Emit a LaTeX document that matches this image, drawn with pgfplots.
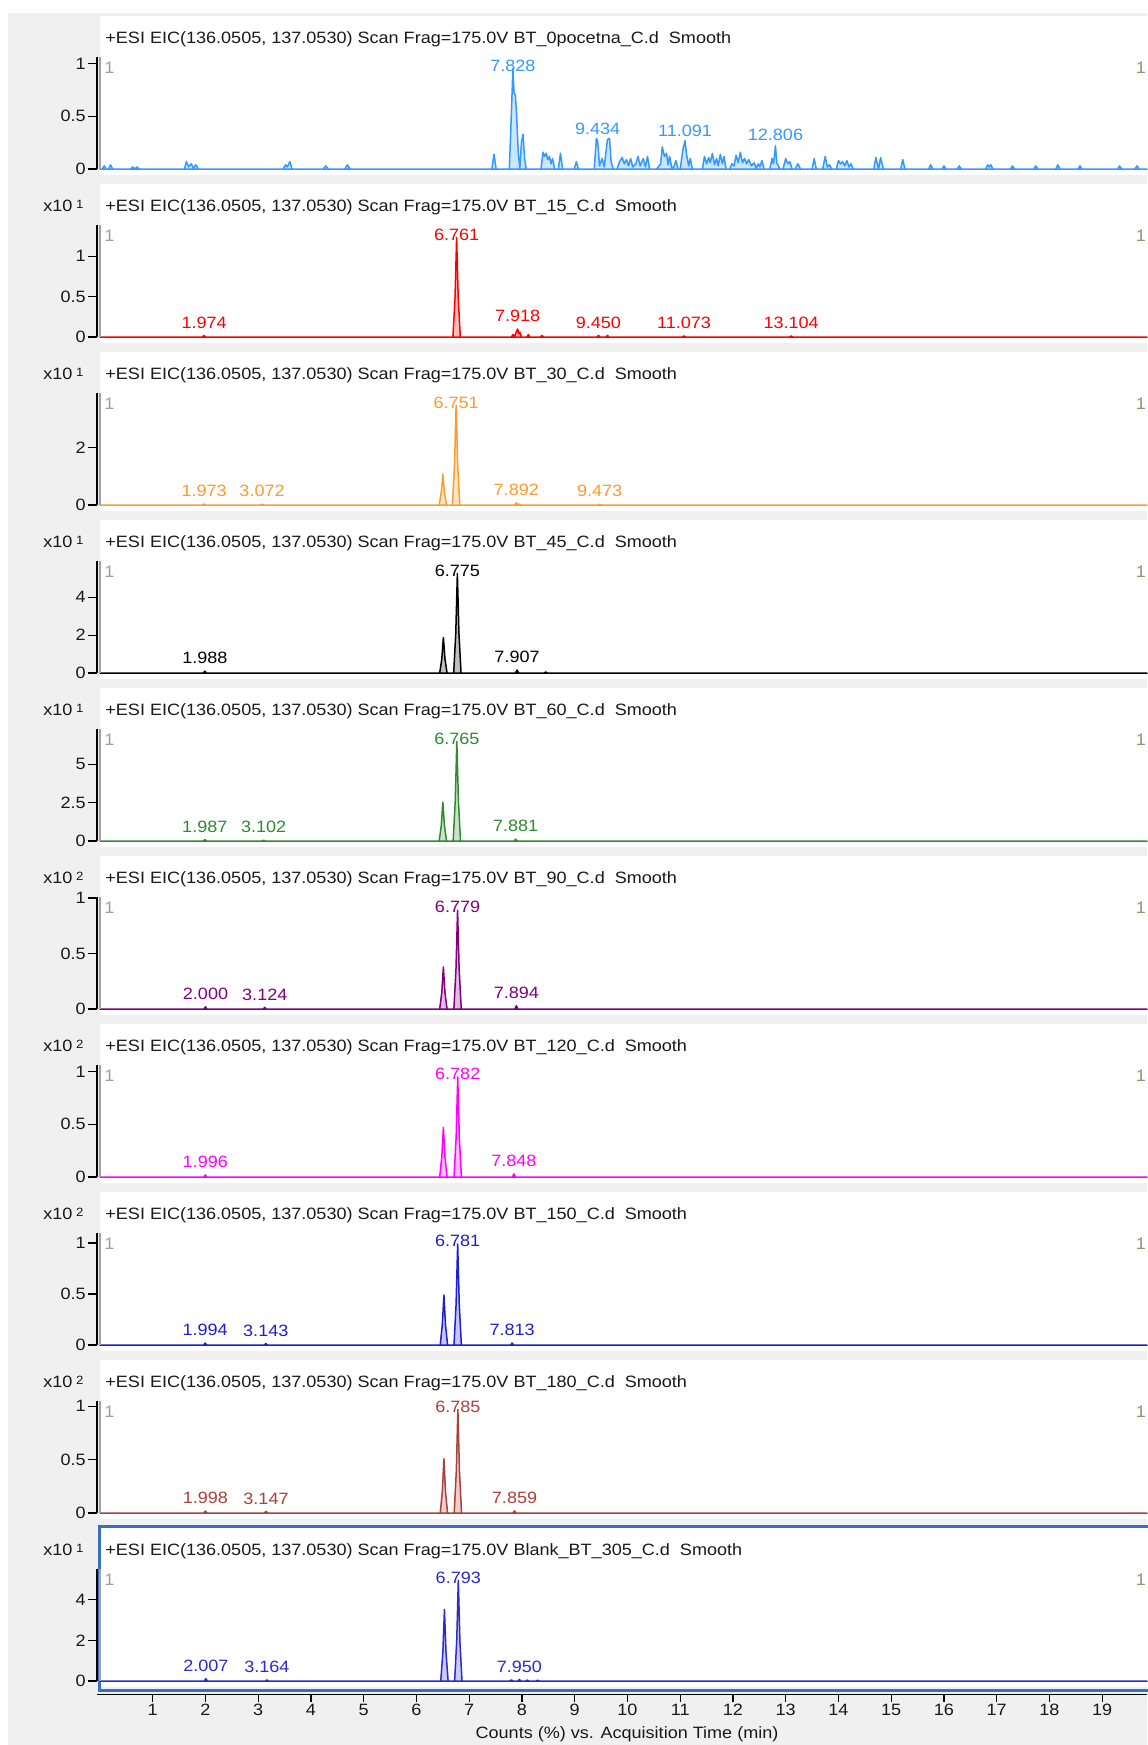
\documentclass[border=0pt]{standalone}
\usepackage{pgfplots}
\pgfplotsset{compat=1.18}
\usepackage{fontspec}
\setmainfont{Liberation Sans}[FakeStretch=1.1]
\newcommand{\tf}{\fontsize{8.2}{9}\selectfont}
\definecolor{cA}{HTML}{3399FF}
\definecolor{cB}{HTML}{FF0000}
\definecolor{cC}{HTML}{FF9A2E}
\definecolor{cD}{HTML}{000000}
\definecolor{cE}{HTML}{2E8B2E}
\definecolor{cF}{HTML}{800080}
\definecolor{cG}{HTML}{FF00FF}
\definecolor{cH}{HTML}{1E1ED2}
\definecolor{cI}{HTML}{A9413B}
\definecolor{cJ}{HTML}{2A2ACF}
\definecolor{bggray}{HTML}{F0F0F0}
\definecolor{bordblue}{HTML}{3A6EC0}
\definecolor{onegray}{HTML}{A0A0A8}
\definecolor{onetan}{HTML}{A08A70}
\pgfplotsset{
 pstyle/.style={scale only axis, width=525pt, height=56.05pt, xmin=-0.057, xmax=19.85, ymin=0,
  axis x line=none, axis y line=left, axis line style={-, black, line width=0.7pt},
  tick align=outside, major tick length=4.5pt, ytick style={black, line width=0.6pt},
  yticklabel style={font=\tf, inner sep=1pt, text=black!90}, anchor=south west, clip=false,
  /pgf/number format/assume math mode=true, /pgf/number format/fixed},
 trace/.style={draw=#1, fill=#1!25, line width=0.75pt, line join=round, mark=none},
}
\tikzset{plab/.style={font=\tf, text=#1, inner sep=0pt, anchor=center}}
\newcommand{\inner}{\draw[onegray, line width=0.6pt] ([xshift=1.5pt]rel axis cs:0,0) -- ([xshift=1.5pt]rel axis cs:0,1);}
\begin{document}
\begin{tikzpicture}
\fill[white] (0,0) rectangle (573.5pt,872.5pt);
\fill[bggray] (3.9pt,0) rectangle (573.5pt,866pt);
\foreach \k in {0,...,9}{\fill[white] (50pt,{(785-84*\k)*1pt}) rectangle (573.5pt,{(864.5-84*\k)*1pt});}
\draw[bordblue, line width=1.5pt] (49.5pt,27pt) rectangle (576pt,109pt);

% Panel 1
\begin{axis}[pstyle, at={(48.5pt,787.95pt)}, ymax=1.0625, ytick={0,0.5,1}]
\addplot[trace=cA] coordinates {(0,0)(0.04,0)(0.08,0.03)(0.12,0)(0.16,0)(0.2,0.04)(0.24,0)(0.58,0)(0.62,0.02)(0.66,0)(0.7,0.02)(0.74,0)
(1.6,0)(1.64,0.07)(1.68,0.02)(1.73,0.05)(1.77,0.01)(1.82,0.04)(1.86,0)(3.47,0)(3.52,0.04)(3.55,0.02)(3.6,0.07)(3.64,0)
(4.23,0)(4.28,0.03)(4.33,0)(4.64,0)(4.69,0.04)(4.74,0)(7.43,0)(7.47,0.14)(7.51,0)
(7.76,0)(7.79,0.4)(7.828,0.95)(7.85,0.72)(7.875,0.7)(7.9,0.5)(7.93,0.15)(7.96,0.01)(7.99,0.25)(8.02,0.33)(8.05,0.1)(8.08,0)
(8.36,0)(8.4,0.16)(8.43,0.12)(8.46,0.15)(8.49,0.09)(8.52,0.12)(8.55,0.05)(8.58,0.1)(8.62,0)
(8.69,0)(8.73,0.15)(8.77,0)(8.99,0)(9.03,0.07)(9.07,0)
(9.37,0)(9.41,0.29)(9.434,0.27)(9.47,0.03)(9.52,0.1)(9.56,0.02)(9.62,0.28)(9.66,0.29)(9.69,0.07)(9.73,0)
(9.8,0)(9.85,0.07)(9.9,0.11)(9.94,0.05)(9.98,0.09)(10.02,0.03)(10.06,0.1)(10.1,0.02)(10.16,0.05)(10.2,0.12)(10.24,0.03)(10.3,0.1)(10.34,0.02)(10.38,0.12)(10.42,0)
(10.55,0)(10.6,0.03)(10.63,0.05)(10.66,0.21)(10.7,0.12)(10.74,0.15)(10.77,0.04)(10.8,0.12)(10.84,0.01)(10.88,0.02)(10.92,0.08)(10.96,0)
(11.0,0)(11.05,0.18)(11.091,0.27)(11.12,0.14)(11.16,0.03)(11.19,0.1)(11.23,0)
(11.42,0)(11.46,0.12)(11.5,0.05)(11.54,0.11)(11.57,0.06)(11.61,0.15)(11.65,0.04)(11.69,0.1)(11.72,0.03)(11.76,0.14)(11.8,0.05)(11.83,0.12)(11.87,0)
(11.94,0)(11.98,0.05)(12.02,0.03)(12.06,0.13)(12.1,0.06)(12.14,0.16)(12.18,0.06)(12.22,0.1)(12.26,0.05)(12.3,0.09)(12.35,0.03)(12.4,0.06)(12.44,0.01)(12.48,0.05)(12.51,0.02)(12.55,0.08)(12.59,0)
(12.7,0)(12.74,0.1)(12.77,0.05)(12.806,0.22)(12.83,0.06)(12.87,0.02)(12.9,0)
(12.95,0)(13.0,0.1)(13.04,0.05)(13.08,0.07)(13.12,0)(13.18,0)(13.23,0.05)(13.28,0)(13.5,0)(13.54,0.1)(13.58,0)
(13.7,0)(13.75,0.12)(13.79,0.02)(13.83,0.04)(13.87,0)
(13.96,0)(14.0,0.08)(14.04,0.05)(14.08,0.07)(14.12,0.03)(14.16,0.08)(14.2,0.02)(14.24,0.05)(14.28,0)
(14.67,0)(14.71,0.11)(14.76,0)(14.8,0.11)(14.85,0)(15.18,0)(15.22,0.09)(15.26,0)(15.71,0)(15.75,0.04)(15.79,0)
(15.96,0)(16.0,0.03)(16.04,0)(16.25,0)(16.29,0.03)(16.33,0)(16.79,0)(16.83,0.04)(16.86,0.02)(16.89,0.04)(16.93,0)
(17.26,0)(17.3,0.03)(17.34,0)(17.7,0)(17.74,0.03)(17.78,0)(18.12,0)(18.16,0.04)(18.2,0)(18.54,0)(18.58,0.03)(18.62,0)
(19.29,0)(19.33,0.03)(19.37,0)(19.62,0)(19.66,0.03)(19.7,0)(19.85,0)} \closedcycle;
\inner
\node[plab=cA, yshift=1.7pt] at (axis cs:7.828,0.95) {7.828};
\node[plab=cA, yshift=5pt] at (axis cs:9.434,0.29) {9.434};
\node[plab=cA, yshift=5pt] at (axis cs:11.091,0.27) {11.091};
\node[plab=cA, yshift=5.5pt] at (axis cs:12.806,0.22) {12.806};
\end{axis}

% Panel 2
\begin{axis}[pstyle, at={(48.5pt,703.95pt)}, ymax=1.386, ytick={0,0.5,1}]
\addplot[trace=cB] coordinates {(0,0)(1.944,0)(1.974,0.02)(2.004,0)(6.691,0)(6.731,0.49)(6.761,1.23)(6.791,0.49)(6.831,0)
(7.8,0)(7.83,0.03)(7.86,0)(7.89,0.06)(7.918,0.1)(7.94,0.04)(7.96,0.06)(7.99,0)(8.09,0)(8.12,0.03)(8.15,0)(8.35,0)(8.38,0.02)(8.41,0)
(9.42,0)(9.45,0.02)(9.48,0)(9.59,0)(9.62,0.02)(9.65,0)(11.043,0)(11.073,0.015)(11.103,0)(13.074,0)(13.104,0.015)(13.134,0)(19.85,0)} \closedcycle;
\inner
\node[plab=cB, yshift=1.5pt] at (axis cs:6.761,1.23) {6.761};
\node[plab=cB, yshift=6.5pt] at (axis cs:1.974,0.02) {1.974};
\node[plab=cB, yshift=6.5pt] at (axis cs:7.918,0.1) {7.918};
\node[plab=cB, yshift=6.5pt] at (axis cs:9.450,0.02) {9.450};
\node[plab=cB, yshift=6.5pt] at (axis cs:11.073,0.015) {11.073};
\node[plab=cB, yshift=6.5pt] at (axis cs:13.104,0.015) {13.104};
\end{axis}

% Panel 3
\begin{axis}[pstyle, at={(48.5pt,619.95pt)}, ymax=3.88, ytick={0,2}]
\addplot[trace=cC] coordinates {(0,0)(1.943,0)(1.973,0.04)(2.003,0)(3.042,0)(3.072,0.03)(3.102,0)
(6.43,0)(6.47,0.43)(6.50,1.07)(6.53,0.43)(6.57,0)(6.681,0)(6.721,1.38)(6.751,3.45)(6.781,1.38)(6.821,0)
(7.862,0)(7.892,0.08)(7.922,0)(7.93,0)(7.95,0.04)(7.98,0)(9.443,0)(9.473,0.03)(9.503,0)(19.85,0)} \closedcycle;
\inner
\node[plab=cC, yshift=1.5pt] at (axis cs:6.751,3.45) {6.751};
\node[plab=cC, yshift=6.5pt] at (axis cs:1.973,0.04) {1.973};
\node[plab=cC, yshift=6.5pt] at (axis cs:3.072,0.03) {3.072};
\node[plab=cC, yshift=6.5pt] at (axis cs:7.892,0.08) {7.892};
\node[plab=cC, yshift=6.5pt] at (axis cs:9.473,0.03) {9.473};
\end{axis}

% Panel 4
\begin{axis}[pstyle, at={(48.5pt,535.95pt)}, ymax=5.91, ytick={0,2,4}]
\addplot[trace=cD] coordinates {(0,0)(1.958,0)(1.988,0.1)(2.018,0)
(6.44,0)(6.48,0.75)(6.51,1.88)(6.54,0.75)(6.58,0)(6.705,0)(6.745,2.1)(6.775,5.25)(6.805,2.1)(6.845,0)
(7.877,0)(7.907,0.16)(7.937,0)(8.42,0)(8.45,0.06)(8.48,0)(19.85,0)} \closedcycle;
\inner
\node[plab=cD, yshift=1.5pt] at (axis cs:6.775,5.25) {6.775};
\node[plab=cD, yshift=6.5pt] at (axis cs:1.988,0.1) {1.988};
\node[plab=cD, yshift=6.5pt] at (axis cs:7.907,0.16) {7.907};
\end{axis}

% Panel 5
\begin{axis}[pstyle, at={(48.5pt,451.95pt)}, ymax=7.29, ytick={0,2.5,5}]
\addplot[trace=cE] coordinates {(0,0)(1.957,0)(1.987,0.1)(2.017,0)(3.072,0)(3.102,0.06)(3.132,0)
(6.43,0)(6.47,1.0)(6.50,2.52)(6.53,1.0)(6.57,0)(6.695,0)(6.735,2.6)(6.765,6.48)(6.795,2.6)(6.835,0)
(7.851,0)(7.881,0.12)(7.911,0)(19.85,0)} \closedcycle;
\inner
\node[plab=cE, yshift=1.5pt] at (axis cs:6.765,6.48) {6.765};
\node[plab=cE, yshift=6.5pt] at (axis cs:1.987,0.1) {1.987};
\node[plab=cE, yshift=6.5pt] at (axis cs:3.102,0.06) {3.102};
\node[plab=cE, yshift=6.5pt] at (axis cs:7.881,0.12) {7.881};
\end{axis}

% Panel 6
\begin{axis}[pstyle, at={(48.5pt,367.95pt)}, ymax=1.01, ytick={0,0.5,1}]
\addplot[trace=cF] coordinates {(0,0)(1.97,0)(2.0,0.02)(2.03,0)(3.094,0)(3.124,0.015)(3.154,0)
(6.44,0)(6.48,0.15)(6.51,0.38)(6.54,0.15)(6.58,0)(6.709,0)(6.749,0.36)(6.779,0.89)(6.809,0.36)(6.849,0)
(7.864,0)(7.894,0.03)(7.924,0)(19.85,0)} \closedcycle;
\inner
\node[plab=cF, yshift=1.5pt] at (axis cs:6.779,0.89) {6.779};
\node[plab=cF, yshift=6.5pt] at (axis cs:2.0,0.02) {2.000};
\node[plab=cF, yshift=6.5pt] at (axis cs:3.124,0.015) {3.124};
\node[plab=cF, yshift=6.5pt] at (axis cs:7.894,0.03) {7.894};
\end{axis}

% Panel 7
\begin{axis}[pstyle, at={(48.5pt,283.95pt)}, ymax=1.0625, ytick={0,0.5,1}]
\addplot[trace=cG] coordinates {(0,0)(1.966,0)(1.996,0.02)(2.026,0)
(6.44,0)(6.48,0.19)(6.51,0.47)(6.54,0.19)(6.58,0)(6.712,0)(6.752,0.38)(6.782,0.95)(6.812,0.38)(6.852,0)
(7.818,0)(7.848,0.03)(7.878,0)(19.85,0)} \closedcycle;
\inner
\node[plab=cG, yshift=1.5pt] at (axis cs:6.782,0.95) {6.782};
\node[plab=cG, yshift=6.5pt] at (axis cs:1.996,0.02) {1.996};
\node[plab=cG, yshift=6.5pt] at (axis cs:7.848,0.03) {7.848};
\end{axis}

% Panel 8
\begin{axis}[pstyle, at={(48.5pt,199.95pt)}, ymax=1.097, ytick={0,0.5,1}]
\addplot[trace=cH] coordinates {(0,0)(1.964,0)(1.994,0.02)(2.024,0)(3.113,0)(3.143,0.015)(3.173,0)
(6.45,0)(6.49,0.2)(6.52,0.49)(6.55,0.2)(6.59,0)(6.711,0)(6.751,0.4)(6.781,0.99)(6.811,0.4)(6.851,0)
(7.783,0)(7.813,0.02)(7.843,0)(19.85,0)} \closedcycle;
\inner
\node[plab=cH, yshift=1.5pt] at (axis cs:6.781,0.99) {6.781};
\node[plab=cH, yshift=6.5pt] at (axis cs:1.994,0.02) {1.994};
\node[plab=cH, yshift=6.5pt] at (axis cs:3.143,0.015) {3.143};
\node[plab=cH, yshift=6.5pt] at (axis cs:7.813,0.02) {7.813};
\end{axis}

% Panel 9
\begin{axis}[pstyle, at={(48.5pt,115.95pt)}, ymax=1.05, ytick={0,0.5,1}]
\addplot[trace=cI] coordinates {(0,0)(1.968,0)(1.998,0.02)(2.028,0)(3.117,0)(3.147,0.015)(3.177,0)
(6.45,0)(6.49,0.2)(6.52,0.51)(6.55,0.2)(6.59,0)(6.715,0)(6.755,0.39)(6.785,0.97)(6.815,0.39)(6.855,0)
(7.829,0)(7.859,0.02)(7.889,0)(19.85,0)} \closedcycle;
\inner
\node[plab=cI, yshift=1.5pt] at (axis cs:6.785,0.97) {6.785};
\node[plab=cI, yshift=6.5pt] at (axis cs:1.998,0.02) {1.998};
\node[plab=cI, yshift=6.5pt] at (axis cs:3.147,0.015) {3.147};
\node[plab=cI, yshift=6.5pt] at (axis cs:7.859,0.02) {7.859};
\end{axis}

% Panel 10
\begin{axis}[pstyle, at={(48.5pt,31.95pt)}, ymax=5.51, ytick={0,2,4}]
\addplot[trace=cJ] coordinates {(0,0)(1.977,0)(2.007,0.12)(2.037,0)(3.134,0)(3.164,0.06)(3.194,0)
(6.46,0)(6.5,1.41)(6.53,3.52)(6.56,1.41)(6.6,0)(6.723,0)(6.763,1.98)(6.793,4.95)(6.823,1.98)(6.863,0)
(7.77,0)(7.8,0.06)(7.83,0)(7.92,0)(7.95,0.08)(7.98,0)(8.07,0)(8.1,0.05)(8.13,0)(8.27,0)(8.3,0.04)(8.33,0)(19.85,0)} \closedcycle;
\inner
\node[plab=cJ, yshift=1.5pt] at (axis cs:6.793,4.95) {6.793};
\node[plab=cJ, yshift=6.5pt] at (axis cs:2.007,0.12) {2.007};
\node[plab=cJ, yshift=6.5pt] at (axis cs:3.164,0.06) {3.164};
\node[plab=cJ, yshift=6.5pt] at (axis cs:7.95,0.08) {7.950};
\end{axis}

% bottom time axis
\begin{axis}[at={(48.5pt,25.2pt)}, anchor=south west, scale only axis, width=525pt, height=10pt,
 xmin=-0.057, xmax=19.85, ymin=0, ymax=1, axis x line=bottom, axis y line=none,
 axis line style={-, black, line width=0.8pt}, xtick={1,...,19}, tick align=outside, major tick length=3.5pt,
 xtick style={black, line width=0.6pt}, xticklabel style={font=\tf, inner sep=1pt, text=black!90},
 /pgf/number format/assume math mode=true]
\addplot[draw=none] coordinates {(1,0.5)};
\end{axis}
\node[font=\tf, text=black!90] at (313.5pt,5.5pt) {Counts (\%) vs. Acquisition Time (min)};

% titles and decorations
\foreach \k/\nm in {0/BT\_0pocetna\_C.d, 1/BT\_15\_C.d, 2/BT\_30\_C.d, 3/BT\_45\_C.d, 4/BT\_60\_C.d, 5/BT\_90\_C.d, 6/BT\_120\_C.d, 7/BT\_150\_C.d, 8/BT\_180\_C.d, 9/Blank\_BT\_305\_C.d}{
 \node[font=\tf, text=black!90, anchor=base west, inner sep=0pt] at (52.5pt,{(850.6-84*\k)*1pt}) {+ESI EIC(136.0505, 137.0530) Scan Frag=175.0V \nm\ \ Smooth};
 \node[font=\tf, text=onegray, anchor=west, inner sep=0pt] at (52pt,{(838.5-84*\k)*1pt}) {1};
 \node[font=\tf, text=onetan, anchor=east, inner sep=0pt] at (573.2pt,{(838.5-84*\k)*1pt}) {1};
}
\foreach \k/\e in {1/1,2/1,3/1,4/1,5/2,6/2,7/2,8/2,9/1}{
 \node[font=\tf, text=black!90, anchor=base west, inner sep=0pt] at (21.5pt,{(850.6-84*\k)*1pt}) {x10\hspace{1.8pt}\raisebox{1.6pt}{\fontsize{6}{6}\selectfont\e}};
}
\pgfresetboundingbox
\useasboundingbox (0,0) rectangle (573.5pt,872.5pt);
\end{tikzpicture}
\end{document}
